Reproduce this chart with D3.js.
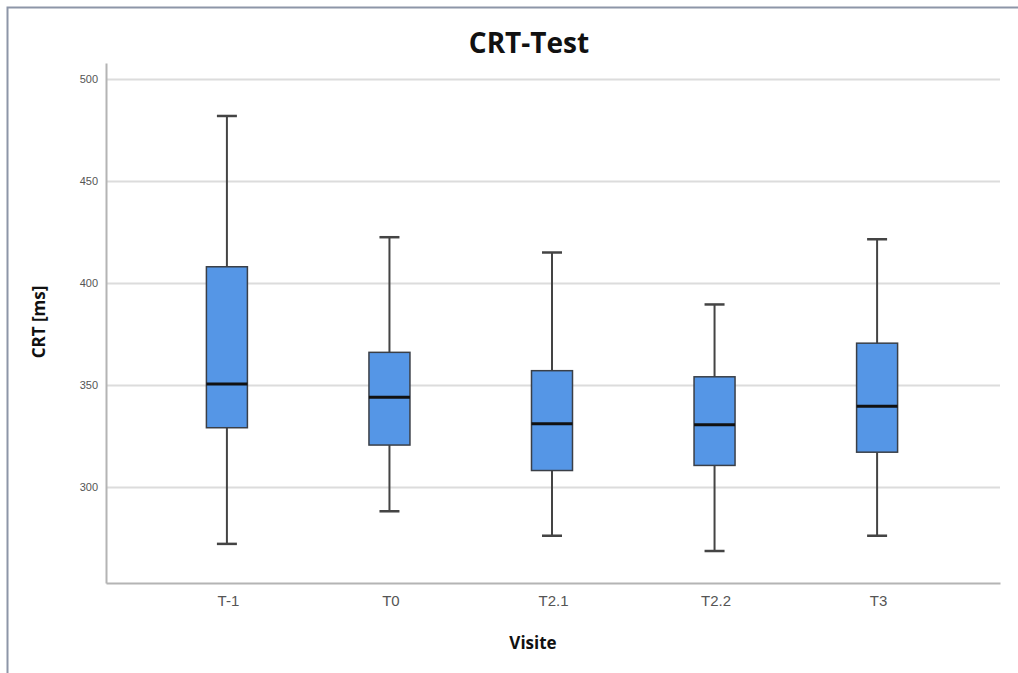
<!DOCTYPE html>
<html>
<head>
<meta charset="utf-8">
<script src="https://cdn.jsdelivr.net/npm/d3@7"></script>
<style>
  body { margin: 0; background: #fff; }
  svg { display: block; }
</style>
</head>
<body>
<div id="chart"></div>
<script>
// box plot values (ms)
var visits = ["T-1", "T0", "T2.1", "T2.2", "T3"];
var whiskerLow  = [272, 288, 276, 268.5, 276];
var q1          = [329, 320.5, 308, 310.5, 317];
var medians     = [350.5, 344, 331, 330.5, 339.5];
var q3          = [408, 366, 357, 354, 370.5];
var whiskerHigh = [482, 422.5, 415, 389.5, 421.5];
var yTicks = [300, 350, 400, 450, 500];

var width = 1018, height = 673;
var margin = {top: 63, right: 18, bottom: 90, left: 106};

var boxes = visits.map((v, i) => ({
  name: v, lo: whiskerLow[i], q1: q1[i], med: medians[i], q3: q3[i], hi: whiskerHigh[i]
}));

var svg = d3.select("#chart").append("svg")
    .attr("width", width)
    .attr("height", height);

// outer frame (top + left edges only)
svg.append("path")
    .attr("d", `M7.5,${height} V7.5 H${width}`)
    .attr("fill", "none")
    .attr("stroke", "#8d96a8")
    .attr("stroke-width", 2);

var x = d3.scalePoint()
    .domain(visits)
    .range([margin.left, width - margin.right])
    .padding(0.75);

var y = d3.scaleLinear()
    .domain([252.8, 508])
    .range([height - margin.bottom, margin.top]);

// gridlines
svg.append("g")
  .selectAll("line")
  .data(yTicks)
  .join("line")
    .attr("x1", margin.left)
    .attr("x2", width - margin.right)
    .attr("y1", d => Math.round(y(d)) + 0.5)
    .attr("y2", d => Math.round(y(d)) + 0.5)
    .attr("stroke", "#dcdcdc")
    .attr("stroke-width", 2);

// y axis
var yAxis = svg.append("g")
    .attr("transform", `translate(${margin.left},0)`)
    .call(d3.axisLeft(y).tickValues(yTicks).tickSize(0).tickPadding(8));
yAxis.select(".domain").attr("stroke", "#b4b4b4").attr("stroke-width", 2);
yAxis.selectAll("text")
    .attr("fill", "#555")
    .style("font-family", "'Liberation Sans', Arial, sans-serif")
    .style("font-size", "11px");

// x axis
var xAxis = svg.append("g")
    .attr("transform", `translate(0,${height - margin.bottom})`)
    .call(d3.axisBottom(x).tickSize(0).tickPadding(12));
xAxis.select(".domain").attr("stroke", "#b4b4b4").attr("stroke-width", 2);
xAxis.selectAll("text")
    .attr("fill", "#555")
    .style("font-family", "'Liberation Sans', Arial, sans-serif")
    .style("font-size", "15px");

var boxW = 41, capW = 20;
var g = svg.append("g")
  .selectAll("g")
  .data(boxes)
  .join("g")
    .attr("transform", d => `translate(${x(d.name) - 1},0)`);

// whiskers
g.append("line")
    .attr("y1", d => y(d.lo)).attr("y2", d => y(d.q1))
    .attr("stroke", "#444").attr("stroke-width", 2);
g.append("line")
    .attr("y1", d => y(d.q3)).attr("y2", d => y(d.hi))
    .attr("stroke", "#444").attr("stroke-width", 2);
g.append("line")
    .attr("x1", -capW / 2).attr("x2", capW / 2)
    .attr("y1", d => y(d.lo)).attr("y2", d => y(d.lo))
    .attr("stroke", "#444").attr("stroke-width", 2.5);
g.append("line")
    .attr("x1", -capW / 2).attr("x2", capW / 2)
    .attr("y1", d => y(d.hi)).attr("y2", d => y(d.hi))
    .attr("stroke", "#444").attr("stroke-width", 2.5);

// box
g.append("rect")
    .attr("x", -boxW / 2)
    .attr("width", boxW)
    .attr("y", d => y(d.q3))
    .attr("height", d => y(d.q1) - y(d.q3))
    .attr("fill", "#5596e6")
    .attr("stroke", "#3a3f47")
    .attr("stroke-width", 1.5);

// median
g.append("line")
    .attr("x1", -boxW / 2).attr("x2", boxW / 2)
    .attr("y1", d => y(d.med)).attr("y2", d => y(d.med))
    .attr("stroke", "#111").attr("stroke-width", 3);

// title + axis titles
svg.append("text")
    .attr("x", 529).attr("y", 53)
    .attr("text-anchor", "middle")
    .style("font-family", "'Open Sans', sans-serif")
    .style("font-weight", "bold")
    .style("font-size", "28px")
    .attr("fill", "#111")
    .text("CRT-Test");

svg.append("text")
    .attr("x", 533).attr("y", 649)
    .attr("text-anchor", "middle")
    .style("font-family", "'Open Sans', sans-serif")
    .style("font-weight", "bold")
    .style("font-size", "17px")
    .attr("fill", "#111")
    .text("Visite");

svg.append("text")
    .attr("transform", "translate(45,322) rotate(-90)")
    .attr("text-anchor", "middle")
    .style("font-family", "'Open Sans', sans-serif")
    .style("font-weight", "bold")
    .style("font-size", "17px")
    .attr("fill", "#111")
    .text("CRT [ms]");
</script>
</body>
</html>
